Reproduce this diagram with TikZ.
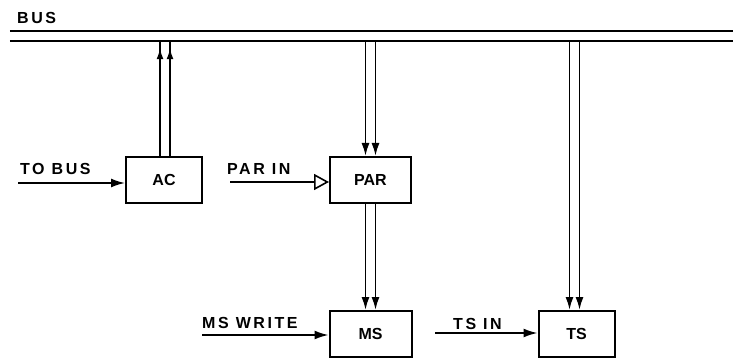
\documentclass[tikz,border=0pt]{standalone}
\usepackage{fontspec}
\setmainfont{Liberation Sans}
\usetikzlibrary{arrows.meta, positioning, decorations.markings}
\tikzset{
  unit/.style={rectangle, draw=black, line width=2pt, inner sep=0pt,
               minimum width=76pt, minimum height=46pt,
               font=\fontsize{16}{18}\selectfont\bfseries},
  sig/.style={inner sep=0pt, anchor=base west,
              font=\fontsize{16}{18}\selectfont\bfseries\addfontfeatures{LetterSpace=16}},
  busline/.style={line width=2pt},
  wire/.style={line width=1.8pt},
  inarrow/.style={wire, -{Latex[length=14pt, width=9pt]}},
  openarrow/.style={wire, -{Triangle[open, length=15pt, width=16pt, line width=1.6pt]}},
  tobox/.style={wire, -{Latex[length=13pt, width=8pt]}},
  upmark/.style={wire, postaction={decorate},
                 decoration={markings, mark=at position -7pt with {\arrow{Latex[length=11pt, width=7pt]}}}},
}
\begin{document}
\begin{tikzpicture}[x=1pt, y=-1pt, node distance=106pt and 125pt]
  \useasboundingbox (0,0) rectangle (735,358);

  % bus
  \node[sig] (buslbl) at (17,24) {BUS};
  \node[inner sep=0pt, minimum width=723pt, minimum height=10pt] (bus) at (371.5,36) {};
  \draw[busline] (bus.north west) -- (bus.north east);
  \draw[busline] (bus.south west) -- (bus.south east);

  % units
  \node[unit] (ac) at (164,180) {AC};
  \node[unit, minimum width=81pt] (par) at (370.5,180) {PAR};
  \node[unit, minimum width=82pt, below=106pt of par] (ms) {MS};
  \node[unit, right=125pt of ms] (ts) {TS};

  % inputs
  \coordinate (tobusin) at (18,183);
  \coordinate (parin) at (230,182);
  \coordinate (mswritein) at (202,335);
  \coordinate (tsin) at (435,333);
  \node[sig] (tobuslbl) at (20,175) {TO BUS};
  \node[sig] (parinlbl) at (227,175) {PAR IN};
  \node[sig] (mswritelbl) at (202,328) {MS WRITE};
  \node[sig] (tsinlbl) at (453,329) {TS IN};

  \draw[inarrow] (tobusin) -- (tobusin -| ac.west);
  \draw[openarrow] (parin) -- (parin -| par.west);
  \draw[inarrow] (mswritein) -- (mswritein -| ms.west);
  \draw[inarrow] (tsin) -- (tsin -| ts.west);

  % bus connections
  \draw[upmark] ([xshift=-4pt]ac.north) -- ([xshift=-4pt]ac.north |- bus.south);
  \draw[upmark] ([xshift=6pt]ac.north) -- ([xshift=6pt]ac.north |- bus.south);
  \draw[tobox] ([xshift=-5pt]par.north |- bus.south) -- ([xshift=-5pt]par.north);
  \draw[tobox] ([xshift=5pt]par.north |- bus.south) -- ([xshift=5pt]par.north);
  \draw[tobox] ([xshift=-5pt]par.south) -- ([xshift=-5pt]par.south |- ms.north);
  \draw[tobox] ([xshift=5pt]par.south) -- ([xshift=5pt]par.south |- ms.north);
  \draw[tobox] ([xshift=-7pt]ts.north |- bus.south) -- ([xshift=-7pt]ts.north);
  \draw[tobox] ([xshift=3pt]ts.north |- bus.south) -- ([xshift=3pt]ts.north);
\end{tikzpicture}
\end{document}
